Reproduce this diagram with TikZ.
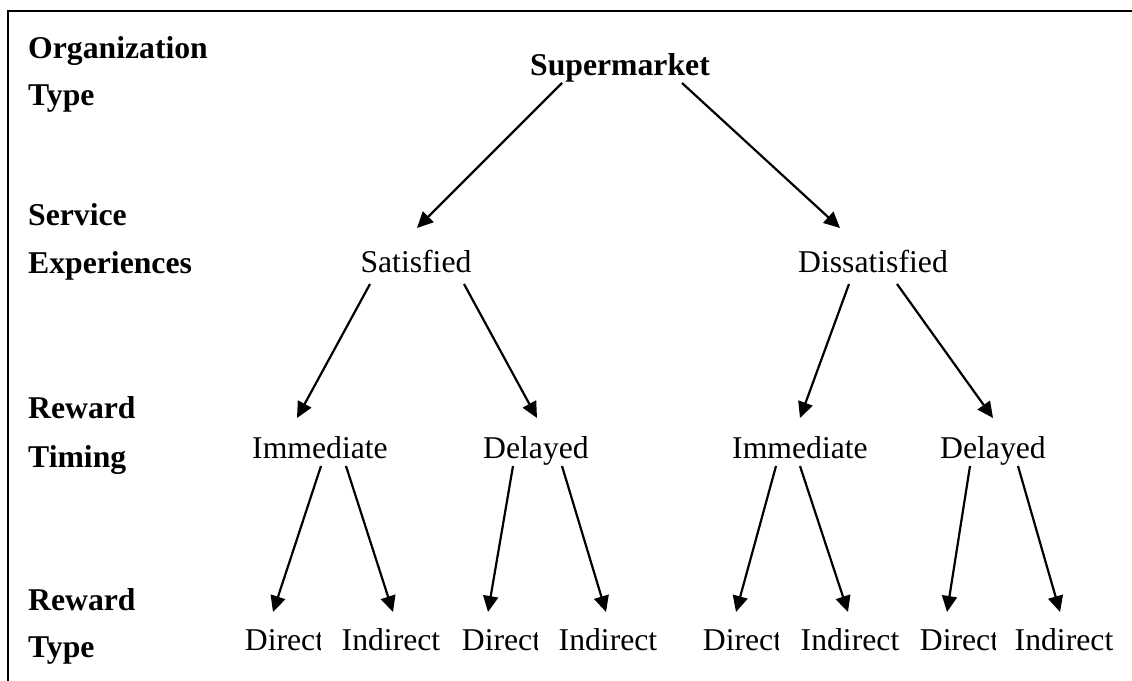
\documentclass[tikz,border=0pt]{standalone}
\usepackage{fontspec}
\setmainfont{Liberation Serif}
\usetikzlibrary{arrows.meta}
\newcommand\directnode[2]{%
  \begin{scope}
    \clip (#2-45,590) rectangle (#2+35.5,675);
    \node[lvl] (#1) at (#2,650) {Direct};
  \end{scope}}
\begin{document}
\begin{tikzpicture}[x=1pt,y=-1pt,
  every node/.style={inner sep=0pt, font=\fontsize{31.7}{38}\selectfont},
  lvl/.style={anchor=base},
  lab/.style={anchor=base west, font=\fontsize{31.7}{38}\selectfont\bfseries},
  arr/.style={line width=2.2pt, -{Triangle[length=16pt,width=15pt]}},
  frame/.style={line width=2.6pt}]
\useasboundingbox (0,0) rectangle (1132,680);
% outer frame (top and left edges)
\draw[frame] (8,681) -- (8,11) -- (1133,11);

% row labels
\node[lab] (orgA) at (28,58)  {Organization};
\node[lab] (orgB) at (28,105) {Type};
\node[lab] (svcA) at (28,225) {Service};
\node[lab] (svcB) at (28,273) {Experiences};
\node[lab] (rtA)  at (28,418) {Reward};
\node[lab] (rtB)  at (28,467) {Timing};
\node[lab] (ryA)  at (28,610) {Reward};
\node[lab] (ryB)  at (28,657) {Type};

% tree
\node[lvl, font=\fontsize{31.7}{38}\selectfont\bfseries] (sup) at (620,75) {Supermarket};
\node[lvl] (sat)  at (416,272) {Satisfied};
\node[lvl] (dis)  at (873,272) {Dissatisfied};
\node[lvl] (imm1) at (320,458) {Immediate};
\node[lvl] (del1) at (536,458) {Delayed};
\node[lvl] (imm2) at (800,458) {Immediate};
\node[lvl] (del2) at (993,458) {Delayed};
\directnode{d1}{284.5}
\node[lvl] (i1) at (391,650) {Indirect};
\directnode{d2}{501.5}
\node[lvl] (i2) at (608,650) {Indirect};
\directnode{d3}{742.5}
\node[lvl] (i3) at (850,650) {Indirect};
\directnode{d4}{959.5}
\node[lvl] (i4) at (1064,650) {Indirect};

% connectors
\draw[arr] ([shift={(-58,8)}]sup.base) -- ([shift={(1,-44)}]sat.base);
\draw[arr] ([shift={(62,8)}]sup.base) -- ([shift={(-33,-44)}]dis.base);

\draw[arr] ([shift={(-46,12)}]sat.base) -- ([shift={(-23,-40)}]imm1.base);
\draw[arr] ([shift={(48,12)}]sat.base) -- ([shift={(1,-40)}]del1.base);
\draw[arr] ([shift={(-24,12)}]dis.base) -- ([shift={(0,-40)}]imm2.base);
\draw[arr] ([shift={(24,12)}]dis.base) -- ([shift={(0,-40)}]del2.base);

\draw[arr] ([shift={(1,8)}]imm1.base) -- ([shift={(-11.5,-38)}]d1.base);
\draw[arr] ([shift={(26,8)}]imm1.base) -- ([shift={(2,-38)}]i1.base);
\draw[arr] ([shift={(-23,8)}]del1.base) -- ([shift={(-13.5,-38)}]d2.base);
\draw[arr] ([shift={(26,8)}]del1.base) -- ([shift={(-2,-38)}]i2.base);
\draw[arr] ([shift={(-24,8)}]imm2.base) -- ([shift={(-6.5,-38)}]d3.base);
\draw[arr] ([shift={(0,8)}]imm2.base) -- ([shift={(-2,-38)}]i3.base);
\draw[arr] ([shift={(-23,8)}]del2.base) -- ([shift={(-12.5,-38)}]d4.base);
\draw[arr] ([shift={(25,8)}]del2.base) -- ([shift={(-4,-38)}]i4.base);
\end{tikzpicture}
\end{document}
